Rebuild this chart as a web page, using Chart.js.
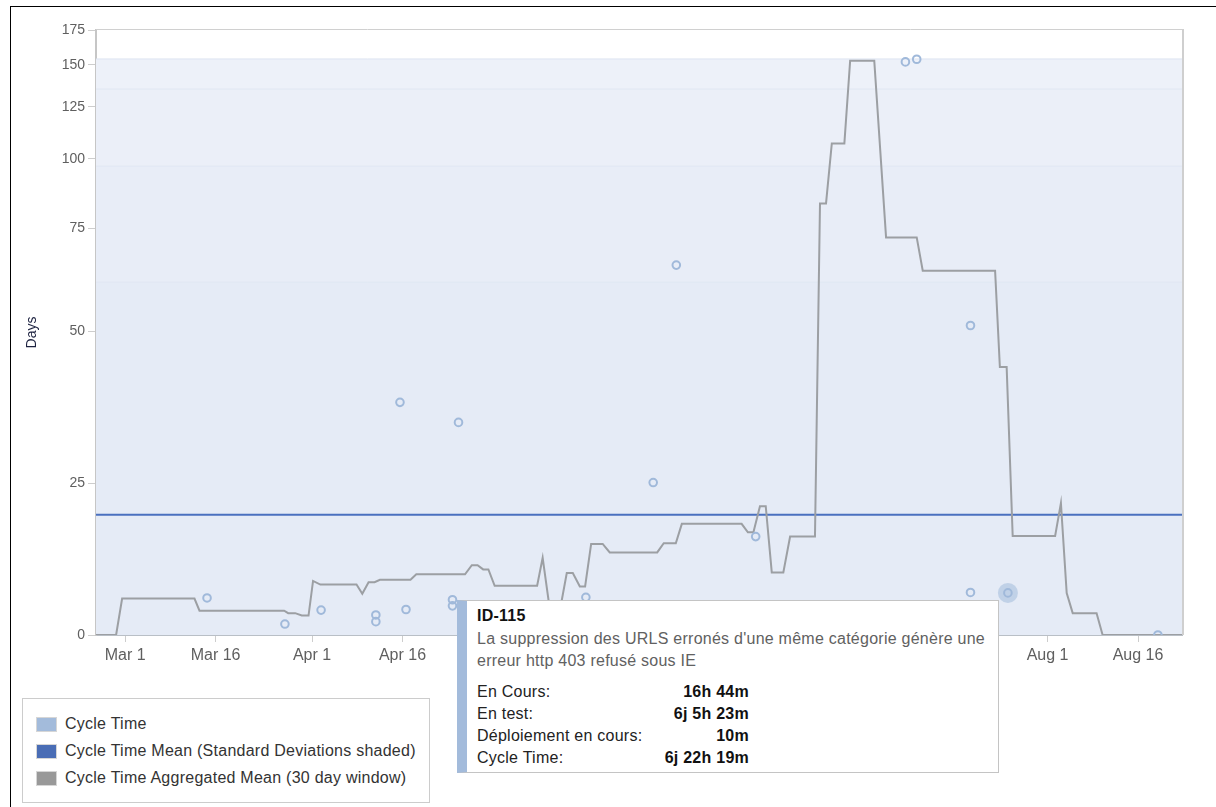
<!DOCTYPE html>
<html>
<head>
<meta charset="utf-8">
<script src="https://cdn.jsdelivr.net/npm/chart.js@4/dist/chart.umd.min.js"></script>
<style>
  html, body { margin: 0; padding: 0; background: #fff; overflow: hidden; }
  body { width: 1216px; height: 807px; position: relative; font-family: "Liberation Sans", Arial, sans-serif; }
  #frame { position: absolute; left: 10px; top: 6px; right: 0; bottom: 0; border-top: 1px solid #000; border-left: 1px solid #000; }
  #wrap { position: absolute; left: 0; top: 0; width: 1216px; height: 807px; }
  #legend { position: absolute; left: 22px; top: 698px; width: 406px; height: 103px; border: 1px solid #ccc; background: #fff; }
  #legend .item { position: absolute; left: 14px; height: 20px; font-size: 16px; letter-spacing: 0.25px; color: #333; line-height: 20px; white-space: nowrap; }
  #legend .sw { display: inline-block; width: 19px; height: 13px; vertical-align: -2px; margin-right: 9px; box-shadow: 0 0 0 1px #d6d6d6; }
  #tip { position: absolute; left: 457px; top: 600px; width: 521px; height: 171px; background: #fff;
         border: 1px solid #c4c4c4; border-left: 10px solid #a3bbdb; padding-left: 10px; font-size: 16px; letter-spacing: 0.25px; }
  #tip .key { position: absolute; left: 10px; top: 6px; font-weight: bold; color: #111; }
  #tip .sum { position: absolute; left: 10px; top: 27px; width: 512px; color: #616161; line-height: 22px; }
  #tip .row { position: absolute; left: 10px; width: 272px; height: 22px; line-height: 22px; color: #222; }
  #tip .row b { position: absolute; right: 0; top: 0; color: #111; }
</style>
</head>
<body>
<div id="frame"></div>
<div id="wrap"><canvas id="chart"></canvas></div>
<div id="legend"></div>
<div id="tip"></div>
<script>
// y axis ticks (days) and x axis ticks
const yTicks = [0, 25, 50, 75, 100, 125, 150, 175];
const xTickDates = ['2013-03-01T00:00', '2013-03-16T00:00', '2013-04-01T00:00', '2013-04-16T00:00',
                    '2013-05-01T00:00', '2013-05-16T00:00', '2013-06-01T00:00', '2013-06-16T00:00',
                    '2013-07-01T00:00', '2013-07-16T00:00', '2013-08-01T00:00', '2013-08-16T00:00'];
const xTickLabels = ['Mar 1', 'Mar 16', 'Apr 1', 'Apr 16', 'May 1', 'May 16',
                     'Jun 1', 'Jun 16', 'Jul 1', 'Jul 16', 'Aug 1', 'Aug 16'];
const rangeStart = '2013-02-24T04:00';
const rangeEnd = '2013-08-23T07:00';

// cycle time of each issue
const cycleDates = ['2013-03-14T14:00', '2013-03-27T12:00', '2013-04-02T12:00', '2013-04-11T14:00',
                    '2013-04-11T14:00', '2013-04-15T14:00', '2013-04-16T14:00', '2013-04-24T07:00',
                    '2013-04-24T07:00', '2013-04-25T07:00', '2013-05-16T10:00', '2013-05-27T14:00',
                    '2013-05-31T10:00', '2013-06-13T14:00', '2013-07-08T10:00', '2013-07-10T07:00',
                    '2013-07-19T05:00', '2013-07-19T05:00', '2013-07-25T10:00', '2013-08-19T07:00'];
const cycleDays = [6.1, 1.8, 4.1, 3.3, 2.2, 38.3, 4.2, 5.8, 4.8, 35.0, 6.2, 25.1,
                   64.6, 16.2, 152.0, 153.8, 51.1, 7.0, 6.93, 0];
const selectedIssue = 18;

// rolling mean (30 day window)
const aggDates = ['2013-02-24T04:00', '2013-02-27T12:00', '2013-02-28T12:00', '2013-03-12T12:00',
  '2013-03-13T08:00', '2013-03-27T09:00', '2013-03-28T01:00', '2013-03-29T05:00', '2013-03-30T07:00',
  '2013-03-31T10:00', '2013-04-01T04:00', '2013-04-02T09:00', '2013-04-08T09:00', '2013-04-09T08:00',
  '2013-04-10T09:00', '2013-04-11T09:00', '2013-04-12T06:00', '2013-04-17T08:00', '2013-04-18T07:00',
  '2013-04-26T09:00', '2013-04-27T12:00', '2013-04-28T11:00', '2013-04-29T09:00', '2013-04-30T06:00',
  '2013-05-01T07:00', '2013-05-08T08:00', '2013-05-09T06:00', '2013-05-10T22:00', '2013-05-11T12:00',
  '2013-05-13T06:00', '2013-05-14T06:00', '2013-05-15T10:00', '2013-05-16T07:00', '2013-05-17T07:00',
  '2013-05-19T05:00', '2013-05-20T09:00', '2013-05-28T06:00', '2013-05-29T08:00', '2013-05-31T08:00',
  '2013-06-01T08:00', '2013-06-11T06:00', '2013-06-12T07:00', '2013-06-13T05:00', '2013-06-14T07:00',
  '2013-06-15T06:00', '2013-06-16T06:00', '2013-06-18T04:00', '2013-06-19T07:00', '2013-06-23T10:00',
  '2013-06-24T06:00', '2013-06-25T06:00', '2013-06-26T05:00', '2013-06-28T07:00', '2013-06-29T06:00',
  '2013-07-03T06:00', '2013-07-05T05:00', '2013-07-10T07:00', '2013-07-11T07:00', '2013-07-23T07:00',
  '2013-07-24T02:00', '2013-07-25T05:00', '2013-07-26T05:00', '2013-08-02T06:00', '2013-08-03T05:00',
  '2013-08-04T04:00', '2013-08-05T04:00', '2013-08-09T03:00', '2013-08-10T03:00', '2013-08-23T07:00'];
const aggDays = [0, 0, 6.0, 6.0,
  4.0, 4.0, 3.6, 3.6, 3.2,
  3.2, 8.9, 8.3, 8.3, 6.8,
  8.7, 8.7, 9.1, 9.1, 10.0,
  10.0, 11.5, 11.5, 10.8, 10.8,
  8.1, 8.1, 12.7, 0.8, 0.8,
  10.2, 10.2, 8.0, 8.0, 15.0,
  15.0, 13.6, 13.6, 15.1, 15.1,
  18.3, 18.3, 16.9, 16.9, 21.2,
  21.2, 10.3, 10.3, 16.2, 16.2,
  83.0, 83.0, 106.8, 106.8, 152.8,
  152.8, 72.2, 72.2, 63.2, 63.2,
  44.1, 44.1, 16.3, 16.3, 21.7,
  6.9, 3.6, 3.6, 0, 0];

const meanDays = 19.8;
// standard deviation shading, outermost first
const bandTops = [154.0, 135.0, 97.0, 60.4];
const bandFills = ['#edf1f9', '#ebeff8', '#e8edf7', '#e5ebf6'];

const seriesNames = ['Cycle Time', 'Cycle Time Mean (Standard Deviations shaded)', 'Cycle Time Aggregated Mean (30 day window)'];
const seriesColors = ['#a3bbdb', '#4a6db5', '#999999'];

const tipKey = 'ID-115';
const tipSummary = "La suppression des URLS erronés d'une même catégorie génère une erreur http 403 refusé sous IE";
const tipLabels = ['En Cours:', 'En test:', 'Déploiement en cours:', 'Cycle Time:'];
const tipValues = ['16h 44m', '6j 5h 23m', '10m', '6j 22h 19m'];

const DAY0 = Date.parse('2013-03-01T00:00Z');
const toDay = s => (Date.parse(s + 'Z') - DAY0) / 864e5;

// jira style axis: linear up to 50 days, compressed above
const warp = v => v <= 50 ? v : 50 + 35 * Math.log((v - 10) / 40);
const unwarp = w => w <= 50 ? w : 10 + 40 * Math.exp((w - 50) / 35);

class DaysScale extends Chart.LinearScale {
    static id = 'days';
    static defaults = Chart.LinearScale.defaults;
    buildTicks() {
        return yTicks.map(v => ({ value: v }));
    }
    getPixelForValue(v) {
        if (v === null || isNaN(v)) return NaN;
        const lo = warp(this.min), hi = warp(this.max);
        return this.getPixelForDecimal((warp(v) - lo) / (hi - lo));
    }
    getValueForPixel(p) {
        const lo = warp(this.min), hi = warp(this.max);
        return unwarp(lo + this.getDecimalForPixel(p) * (hi - lo));
    }
}
Chart.register(DaysScale);

const xMin = toDay(rangeStart), xMax = toDay(rangeEnd);

const plotFrame = {
    id: 'plotFrame',
    afterDatasetsDraw(chart) {
        const { ctx, chartArea: a } = chart;
        ctx.save();
        ctx.strokeStyle = '#d0d0d0';
        ctx.lineWidth = 1;
        ctx.beginPath();
        ctx.moveTo(a.left, a.top - 0.5);
        ctx.lineTo(a.right, a.top - 0.5);
        ctx.stroke();
        ctx.lineWidth = 2;
        ctx.strokeStyle = '#cfcfcf';
        ctx.beginPath();
        ctx.moveTo(a.right + 1, a.top - 1);
        ctx.lineTo(a.right + 1, a.bottom);
        ctx.stroke();
        ctx.restore();
    }
};

const bandSets = bandTops.map((top, i) => ({
    type: 'line',
    data: [{ x: xMin, y: top }, { x: xMax, y: top }],
    fill: 'origin',
    backgroundColor: bandFills[i],
    borderColor: i === 0 ? '#dde4f1' : '#e0e7f2',
    borderWidth: 1,
    pointRadius: 0,
    order: 20 - i
}));

const cyclePoints = cycleDates.map((d, i) => ({ x: toDay(d), y: cycleDays[i] }));

new Chart(document.getElementById('chart'), {
    type: 'line',
    data: {
        datasets: [
            ...bandSets,
            {
                label: seriesNames[1],
                data: [{ x: xMin, y: meanDays }, { x: xMax, y: meanDays }],
                borderColor: '#4a70bf',
                borderWidth: 2,
                pointRadius: 0,
                order: 5
            },
            {
                label: seriesNames[2],
                data: aggDates.map((d, i) => ({ x: toDay(d), y: aggDays[i] })),
                borderColor: '#9c9fa3',
                borderWidth: 2,
                pointRadius: 0,
                tension: 0,
                order: 4
            },
            {
                type: 'scatter',
                data: [cyclePoints[selectedIssue]],
                pointRadius: 10,
                backgroundColor: 'rgba(163,187,219,0.55)',
                borderWidth: 0,
                order: 2
            },
            {
                type: 'scatter',
                label: seriesNames[0],
                data: cyclePoints,
                pointRadius: 3.8,
                borderWidth: 2,
                borderColor: '#a0b9da',
                backgroundColor: 'rgba(0,0,0,0)',
                order: 1
            }
        ]
    },
    options: {
        responsive: true,
        maintainAspectRatio: false,
        animation: false,
        events: [],
        layout: { padding: { left: 16, right: 34, top: 30, bottom: 132 } },
        plugins: { legend: { display: false }, tooltip: { enabled: false } },
        scales: {
            x: {
                type: 'linear',
                min: xMin,
                max: xMax,
                afterBuildTicks: s => { s.ticks = xTickDates.map(d => ({ value: toDay(d) })); },
                afterFit: s => { s.height = 40; },
                ticks: {
                    callback: (v, i) => xTickLabels[i],
                    autoSkip: false,
                    maxRotation: 0,
                    padding: 4,
                    color: '#5f5f5f',
                    font: { family: 'Liberation Sans', size: 16 }
                },
                grid: { drawOnChartArea: false, tickLength: 7, color: '#cdcdcd' },
                border: { color: '#b9bfc6', width: 2 }
            },
            y: {
                type: 'days',
                min: 0,
                max: 175,
                afterFit: s => { s.width = 80; },
                ticks: {
                    callback: v => String(v),
                    padding: 3,
                    color: '#5f5f5f',
                    font: { family: 'Liberation Sans', size: 14 }
                },
                grid: { drawOnChartArea: false, tickLength: 8, color: '#cdcdcd' },
                border: { color: '#c6c6c6', width: 2 },
                title: {
                    display: true,
                    text: 'Days',
                    color: '#1d2240',
                    padding: { top: 8, bottom: 0 },
                    font: { family: 'Liberation Sans', size: 14 }
                }
            }
        }
    },
    plugins: [plotFrame]
});

// legend
const legend = document.getElementById('legend');
seriesNames.forEach((name, i) => {
    const item = document.createElement('div');
    item.className = 'item';
    item.style.top = (15 + i * 27) + 'px';
    item.innerHTML = `<span class="sw" style="background:${seriesColors[i]}"></span>${name}`;
    legend.appendChild(item);
});

// issue detail box
const tip = document.getElementById('tip');
tip.innerHTML = `<div class="key">${tipKey}</div><div class="sum">${tipSummary}</div>` +
    tipLabels.map((l, i) => `<div class="row" style="top:${80 + i * 22}px">${l}<b>${tipValues[i]}</b></div>`).join('');
</script>
</body>
</html>
